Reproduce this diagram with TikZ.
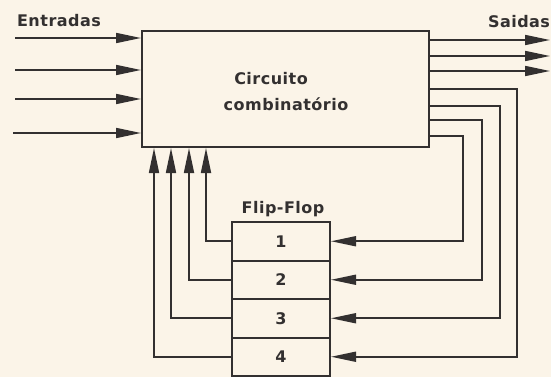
\documentclass[tikz,border=0pt]{standalone}
\usepackage{fontspec}
\newfontfamily\lbl[LetterSpace=3]{DejaVu Sans Bold}
\usetikzlibrary{arrows.meta}
\definecolor{paper}{HTML}{FBF4E8}
\definecolor{ink}{HTML}{333030}
\tikzset{
  wire/.style={draw=ink, line width=1.7pt},
  arr/.style={wire, -{Triangle[length=25pt,width=10pt]}},
  blk/.style={draw=ink, line width=2pt, rectangle, inner sep=0pt},
  ffrow/.style={blk, minimum width=98pt, minimum height=38.5pt, font=\lbl\fontsize{16}{18}\selectfont, text=ink},
  txt/.style={font=\lbl\fontsize{16}{18}\selectfont, text=ink, inner sep=0pt}
}
\begin{document}
\begin{tikzpicture}[x=1pt,y=-1pt]
\fill[paper] (0,0) rectangle (551,377);
\useasboundingbox (0,0) rectangle (551,377);
% main block
\node[blk, minimum width=287pt, minimum height=116pt] (cc) at (285.5,89) {};
\node[txt] (t1) at (271,79) {Circuito};
\node[txt] (t2) at (286,104) {combinatório};
% flip-flops
\node[ffrow] (ff1) at (281,241.25) {1};
\node[ffrow] (ff2) at (281,279.75) {2};
\node[ffrow] (ff3) at (281,318.25) {3};
\node[ffrow] (ff4) at (281,356.75) {4};
\node[txt] (fl) at (283,209) {Flip-Flop};
% labels
\node[txt] (en) at (59,21) {Entradas};
\node[txt] (sa) at (519,22) {Saidas};
% inputs
\coordinate (i1) at (15,38);
\coordinate (i2) at (15,70);
\coordinate (i3) at (15,99);
\coordinate (i4) at (13,133);
\foreach \i in {1,2,3,4} \draw[arr] (i\i) -- (i\i -| cc.west);
% outputs
\coordinate (o1) at (550,40);
\coordinate (o2) at (550,56);
\coordinate (o3) at (550,71);
\foreach \i in {1,2,3} \draw[arr] (o\i -| cc.east) -- (o\i);
% feedback from combinational block to flip-flops
\draw[arr] (cc.east |- 0,89) -- (517,89) -- (517,0 |- ff4.east) -- (ff4.east);
\draw[arr] (cc.east |- 0,106) -- (500,106) -- (500,0 |- ff3.east) -- (ff3.east);
\draw[arr] (cc.east |- 0,120) -- (482,120) -- (482,0 |- ff2.east) -- (ff2.east);
\draw[arr] (cc.east |- 0,136) -- (463,136) -- (463,0 |- ff1.east) -- (ff1.east);
% flip-flop outputs back to block
\draw[arr] (ff1.west) -| (cc.south -| 206,0);
\draw[arr] (ff2.west) -| (cc.south -| 189,0);
\draw[arr] (ff3.west) -| (cc.south -| 171,0);
\draw[arr] (ff4.west) -| (cc.south -| 154,0);
\end{tikzpicture}
\end{document}
